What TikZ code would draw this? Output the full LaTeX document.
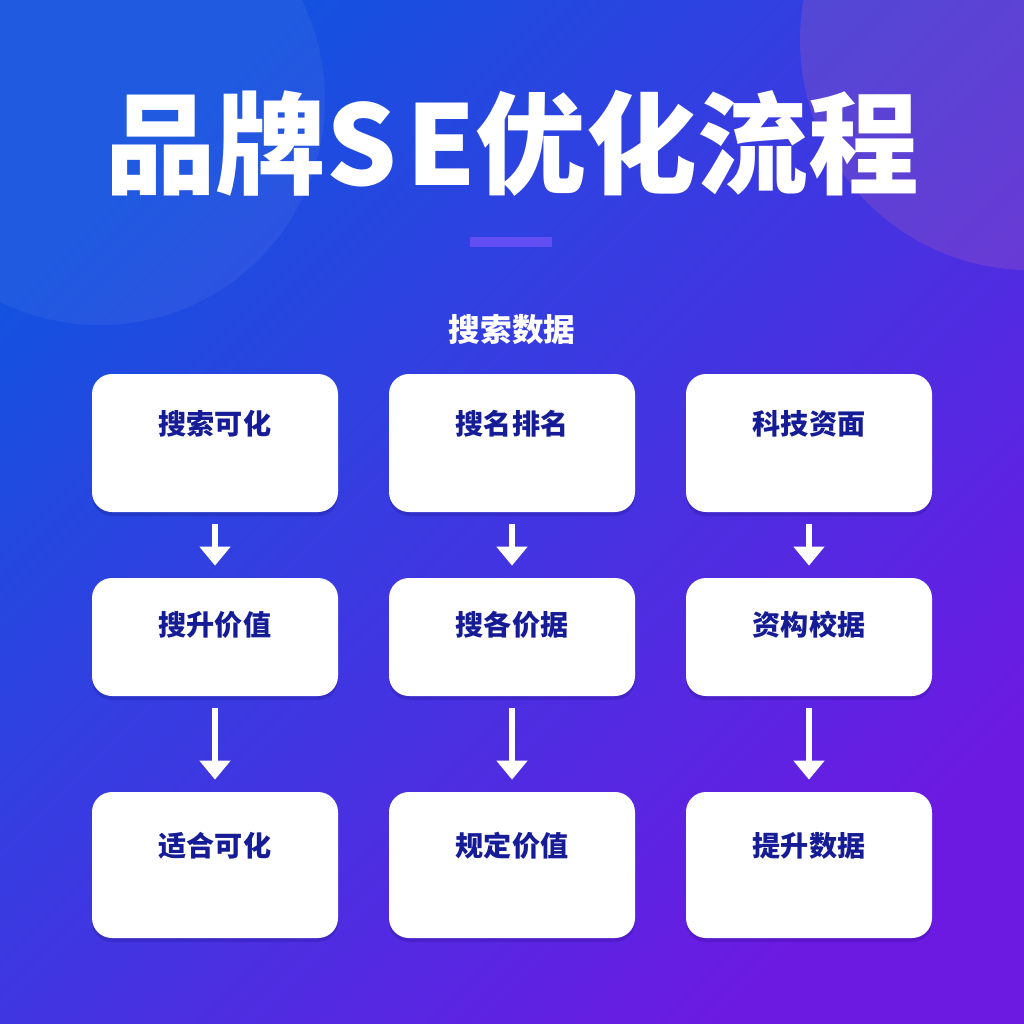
\documentclass[tikz,border=0pt]{standalone}
\usepackage{fontspec}
\newfontfamily\cjk{Noto Sans CJK SC}
\usetikzlibrary{arrows.meta,shadows}
\definecolor{bgtop}{RGB}{20,82,224}
\definecolor{bgbot}{RGB}{108,26,226}
\definecolor{navy}{RGB}{22,28,150}
\definecolor{barcol}{RGB}{98,78,242}
\tikzset{
	card/.style={draw=none, fill=white, rounded corners=0.4cm, minimum width=4.92cm,
		drop shadow={shadow xshift=0cm, shadow yshift=-0.08cm, opacity=0.15, fill=black!70!blue}},
	cardtext/.style={text=navy, font=\cjk\bfseries\fontsize{16}{18}\selectfont},
	flow/.style={draw=white, line width=0.11cm, -{Triangle[length=0.38cm, width=0.6cm]},
		shorten <=0.24cm, shorten >=0.24cm}
}
\begin{document}
\begin{tikzpicture}
	% background
	\shade[top color=bgtop, bottom color=bgbot, shading angle=45] (0,0) rectangle (20.48,-20.48);
	\begin{scope}
		\clip (0,0) rectangle (20.48,-20.48);
		\fill[white, opacity=0.05] (2,-2) circle(4.5cm);
		\fill[violet!60!white, opacity=0.25] (20.6,-0.8) circle(4.6cm);
	\end{scope}
	\useasboundingbox (0,0) rectangle (20.48,-20.48);

	% title
	\node[text=white, font=\cjk\bfseries\fontsize{63}{66}\selectfont] (title) at (10.24,-2.86) {品牌S\kern0.08em E优化流程};
	\fill[barcol] (9.40,-4.74) rectangle (11.04,-4.94);
	\node[text=white, font=\cjk\bfseries\fontsize{18}{20}\selectfont] (sub) at (10.24,-6.60) {搜索数据};

	% cards
	\node[card, minimum height=2.76cm] (a1) at (4.30,-8.86) {};
	\node[card, minimum height=2.76cm] (b1) at (10.24,-8.86) {};
	\node[card, minimum height=2.76cm] (c1) at (16.18,-8.86) {};
	\node[card, minimum height=2.36cm] (a2) at (4.30,-12.74) {};
	\node[card, minimum height=2.36cm] (b2) at (10.24,-12.74) {};
	\node[card, minimum height=2.36cm] (c2) at (16.18,-12.74) {};
	\node[card, minimum height=2.92cm] (a3) at (4.30,-17.30) {};
	\node[card, minimum height=2.92cm] (b3) at (10.24,-17.30) {};
	\node[card, minimum height=2.92cm] (c3) at (16.18,-17.30) {};

	\node[cardtext] (ta1) at ([yshift=-1cm]a1.north) {搜索可化};
	\node[cardtext] (tb1) at ([yshift=-1cm]b1.north) {搜名排名};
	\node[cardtext] (tc1) at ([yshift=-1cm]c1.north) {科技资面};
	\node[cardtext] (ta2) at ([yshift=-0.94cm]a2.north) {搜升价值};
	\node[cardtext] (tb2) at ([yshift=-0.94cm]b2.north) {搜各价据};
	\node[cardtext] (tc2) at ([yshift=-0.94cm]c2.north) {资构校据};
	\node[cardtext] (ta3) at ([yshift=-1.08cm]a3.north) {适合可化};
	\node[cardtext] (tb3) at ([yshift=-1.08cm]b3.north) {规定价值};
	\node[cardtext] (tc3) at ([yshift=-1.08cm]c3.north) {提升数据};

	% arrows
	\foreach \c in {a,b,c} {
		\draw[flow] (\c1.south) -- (\c2.north);
		\draw[flow] (\c2.south) -- (\c3.north);
	}
\end{tikzpicture}
\end{document}
